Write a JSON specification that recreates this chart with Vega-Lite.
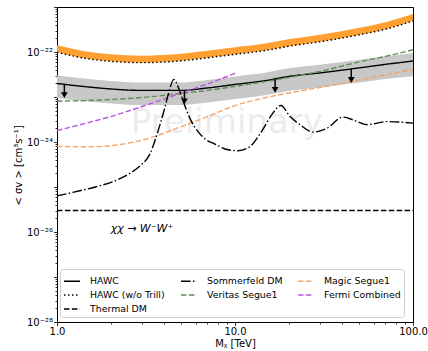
{
  "$schema": "https://vega.github.io/schema/vega-lite/v6.json",
  "width": 356,
  "height": 315,
  "autosize": {"type": "none"},
  "padding": {"left": 57, "top": 7, "right": 15, "bottom": 29},
  "background": "white",
  "config": {
    "font": "DejaVu Sans",
    "view": {"stroke": "black", "strokeWidth": 1},
    "axis": {
      "grid": false,
      "domainColor": "black",
      "domainWidth": 1,
      "tickColor": "black",
      "tickWidth": 0.8,
      "labelColor": "black",
      "titleColor": "black",
      "labelFont": "DejaVu Sans",
      "titleFont": "DejaVu Sans",
      "labelFontSize": 10,
      "titleFontSize": 10,
      "titleFontWeight": "normal",
      "labelOverlap": false,
      "labelFlush": false
    },
    "legend": {
      "orient": "none",
      "direction": "horizontal",
      "legendX": 3,
      "legendY": 262,
      "columns": 3,
      "gridAlign": "all",
      "fillColor": "rgba(255,255,255,0.85)",
      "strokeColor": "#cccccc",
      "cornerRadius": 3,
      "padding": 3,
      "labelFont": "DejaVu Sans",
      "labelFontSize": 9.4,
      "labelColor": "black",
      "labelOffset": 9,
      "labelLimit": 300,
      "symbolType": "stroke",
      "symbolSize": 256,
      "symbolStrokeWidth": 1.5,
      "columnPadding": 11,
      "rowPadding": -2.5
    }
  },
  "datasets": {
    "lines": [
      {"s": "HAWC", "m": 1, "sv": 2.0e-23},
      {"s": "HAWC", "m": 1.5, "sv": 1.67e-23},
      {"s": "HAWC", "m": 2, "sv": 1.51e-23},
      {"s": "HAWC", "m": 3, "sv": 1.40e-23},
      {"s": "HAWC", "m": 5, "sv": 1.40e-23},
      {"s": "HAWC", "m": 7, "sv": 1.59e-23},
      {"s": "HAWC", "m": 10, "sv": 1.90e-23},
      {"s": "HAWC", "m": 15, "sv": 2.33e-23},
      {"s": "HAWC", "m": 20, "sv": 2.86e-23},
      {"s": "HAWC", "m": 30, "sv": 3.43e-23},
      {"s": "HAWC", "m": 50, "sv": 4.44e-23},
      {"s": "HAWC", "m": 70, "sv": 5.31e-23},
      {"s": "HAWC", "m": 100, "sv": 6.3e-23},

      {"s": "HAWC (w/o Trill)", "m": 1, "sv": 9.85e-23},
      {"s": "HAWC (w/o Trill)", "m": 1.5, "sv": 7.05e-23},
      {"s": "HAWC (w/o Trill)", "m": 2, "sv": 6.2e-23},
      {"s": "HAWC (w/o Trill)", "m": 3, "sv": 5.8e-23},
      {"s": "HAWC (w/o Trill)", "m": 5, "sv": 6.37e-23},
      {"s": "HAWC (w/o Trill)", "m": 7, "sv": 7.43e-23},
      {"s": "HAWC (w/o Trill)", "m": 10, "sv": 8.89e-23},
      {"s": "HAWC (w/o Trill)", "m": 15, "sv": 1.09e-22},
      {"s": "HAWC (w/o Trill)", "m": 20, "sv": 1.34e-22},
      {"s": "HAWC (w/o Trill)", "m": 30, "sv": 1.69e-22},
      {"s": "HAWC (w/o Trill)", "m": 50, "sv": 2.42e-22},
      {"s": "HAWC (w/o Trill)", "m": 70, "sv": 3.21e-22},
      {"s": "HAWC (w/o Trill)", "m": 100, "sv": 4.92e-22},

      {"s": "Thermal DM", "m": 1, "sv": 3e-26},
      {"s": "Thermal DM", "m": 100, "sv": 3e-26},

      {"s": "Veritas Segue1", "m": 1, "sv": 8.14e-24},
      {"s": "Veritas Segue1", "m": 1.5, "sv": 8.35e-24},
      {"s": "Veritas Segue1", "m": 2, "sv": 8.8e-24},
      {"s": "Veritas Segue1", "m": 3, "sv": 9.75e-24},
      {"s": "Veritas Segue1", "m": 5, "sv": 1.20e-23},
      {"s": "Veritas Segue1", "m": 7, "sv": 1.40e-23},
      {"s": "Veritas Segue1", "m": 10, "sv": 1.72e-23},
      {"s": "Veritas Segue1", "m": 15, "sv": 2.22e-23},
      {"s": "Veritas Segue1", "m": 20, "sv": 2.72e-23},
      {"s": "Veritas Segue1", "m": 30, "sv": 3.71e-23},
      {"s": "Veritas Segue1", "m": 50, "sv": 6.04e-23},
      {"s": "Veritas Segue1", "m": 70, "sv": 8.0e-23},
      {"s": "Veritas Segue1", "m": 100, "sv": 1.12e-22},

      {"s": "Magic Segue1", "m": 1, "sv": 7.98e-25},
      {"s": "Magic Segue1", "m": 1.5, "sv": 7.85e-25},
      {"s": "Magic Segue1", "m": 2, "sv": 8.27e-25},
      {"s": "Magic Segue1", "m": 3, "sv": 1.10e-24},
      {"s": "Magic Segue1", "m": 5, "sv": 2.20e-24},
      {"s": "Magic Segue1", "m": 7, "sv": 3.67e-24},
      {"s": "Magic Segue1", "m": 10, "sv": 6.46e-24},
      {"s": "Magic Segue1", "m": 15, "sv": 9.75e-24},
      {"s": "Magic Segue1", "m": 20, "sv": 1.23e-23},
      {"s": "Magic Segue1", "m": 30, "sv": 1.63e-23},
      {"s": "Magic Segue1", "m": 50, "sv": 2.40e-23},
      {"s": "Magic Segue1", "m": 70, "sv": 3.10e-23},
      {"s": "Magic Segue1", "m": 100, "sv": 4.11e-23},

      {"s": "Fermi Combined", "m": 1, "sv": 1.79e-24},
      {"s": "Fermi Combined", "m": 1.5, "sv": 2.70e-24},
      {"s": "Fermi Combined", "m": 2, "sv": 3.67e-24},
      {"s": "Fermi Combined", "m": 3, "sv": 6.14e-24},
      {"s": "Fermi Combined", "m": 5, "sv": 1.23e-23},
      {"s": "Fermi Combined", "m": 7, "sv": 1.95e-23},
      {"s": "Fermi Combined", "m": 10, "sv": 3.35e-23},

      {"s": "Sommerfeld DM", "m": 1, "sv": 6.33e-26},
      {"s": "Sommerfeld DM", "m": 1.26, "sv": 7.78e-26},
      {"s": "Sommerfeld DM", "m": 1.64, "sv": 1.00e-25},
      {"s": "Sommerfeld DM", "m": 2.12, "sv": 1.37e-25},
      {"s": "Sommerfeld DM", "m": 2.57, "sv": 2.01e-25},
      {"s": "Sommerfeld DM", "m": 2.93, "sv": 2.96e-25},
      {"s": "Sommerfeld DM", "m": 3.33, "sv": 5.48e-25},
      {"s": "Sommerfeld DM", "m": 3.55, "sv": 1.07e-24},
      {"s": "Sommerfeld DM", "m": 3.79, "sv": 2.43e-24},
      {"s": "Sommerfeld DM", "m": 4.05, "sv": 6.14e-24},
      {"s": "Sommerfeld DM", "m": 4.26, "sv": 1.33e-23},
      {"s": "Sommerfeld DM", "m": 4.54, "sv": 2.46e-23},
      {"s": "Sommerfeld DM", "m": 4.85, "sv": 1.47e-23},
      {"s": "Sommerfeld DM", "m": 5.17, "sv": 7.16e-24},
      {"s": "Sommerfeld DM", "m": 5.59, "sv": 3.31e-24},
      {"s": "Sommerfeld DM", "m": 6.2, "sv": 1.70e-24},
      {"s": "Sommerfeld DM", "m": 6.87, "sv": 1.13e-24},
      {"s": "Sommerfeld DM", "m": 7.62, "sv": 9.17e-25},
      {"s": "Sommerfeld DM", "m": 9.13, "sv": 6.73e-25},
      {"s": "Sommerfeld DM", "m": 10.4, "sv": 6.40e-25},
      {"s": "Sommerfeld DM", "m": 12.1, "sv": 7.85e-25},
      {"s": "Sommerfeld DM", "m": 14.2, "sv": 1.79e-24},
      {"s": "Sommerfeld DM", "m": 16.1, "sv": 4.07e-24},
      {"s": "Sommerfeld DM", "m": 18.1, "sv": 6.46e-24},
      {"s": "Sommerfeld DM", "m": 20.4, "sv": 3.67e-24},
      {"s": "Sommerfeld DM", "m": 23.2, "sv": 2.43e-24},
      {"s": "Sommerfeld DM", "m": 27.4, "sv": 1.66e-24},
      {"s": "Sommerfeld DM", "m": 32.9, "sv": 2.03e-24},
      {"s": "Sommerfeld DM", "m": 40.4, "sv": 3.58e-24},
      {"s": "Sommerfeld DM", "m": 47.2, "sv": 2.99e-24},
      {"s": "Sommerfeld DM", "m": 55.2, "sv": 2.43e-24},
      {"s": "Sommerfeld DM", "m": 71.4, "sv": 2.84e-24},
      {"s": "Sommerfeld DM", "m": 84.5, "sv": 2.77e-24},
      {"s": "Sommerfeld DM", "m": 100, "sv": 2.63e-24}
    ],
    "hawcBand": [
      {"m": 1, "sv": 9.5e-24, "sv2": 3.02e-23},
      {"m": 1.5, "sv": 7.9e-24, "sv2": 2.52e-23},
      {"m": 2, "sv": 7.2e-24, "sv2": 2.28e-23},
      {"m": 3, "sv": 6.6e-24, "sv2": 2.11e-23},
      {"m": 5, "sv": 6.6e-24, "sv2": 2.11e-23},
      {"m": 7, "sv": 7.5e-24, "sv2": 2.39e-23},
      {"m": 10, "sv": 9.0e-24, "sv2": 2.87e-23},
      {"m": 15, "sv": 1.11e-23, "sv2": 3.52e-23},
      {"m": 20, "sv": 1.36e-23, "sv2": 4.33e-23},
      {"m": 30, "sv": 1.63e-23, "sv2": 5.18e-23},
      {"m": 50, "sv": 2.11e-23, "sv2": 6.7e-23},
      {"m": 70, "sv": 2.52e-23, "sv2": 8.0e-23},
      {"m": 100, "sv": 2.91e-23, "sv2": 9.35e-23}
    ],
    "trillBand": [
      {"m": 1, "sv": 9.85e-23, "sv2": 1.41e-22},
      {"m": 1.5, "sv": 7.05e-23, "sv2": 1.01e-22},
      {"m": 2, "sv": 6.2e-23, "sv2": 8.9e-23},
      {"m": 3, "sv": 5.8e-23, "sv2": 8.3e-23},
      {"m": 5, "sv": 6.37e-23, "sv2": 9.1e-23},
      {"m": 7, "sv": 7.43e-23, "sv2": 1.06e-22},
      {"m": 10, "sv": 8.89e-23, "sv2": 1.27e-22},
      {"m": 15, "sv": 1.09e-22, "sv2": 1.56e-22},
      {"m": 20, "sv": 1.34e-22, "sv2": 1.92e-22},
      {"m": 30, "sv": 1.69e-22, "sv2": 2.42e-22},
      {"m": 50, "sv": 2.42e-22, "sv2": 3.46e-22},
      {"m": 70, "sv": 3.21e-22, "sv2": 4.6e-22},
      {"m": 100, "sv": 4.92e-22, "sv2": 7.0e-22}
    ],
    "arrows": [
      {"m": 1.1, "sv": 1.93e-23, "sv2": 1.10e-23},
      {"m": 5.2, "sv": 1.41e-23, "sv2": 8.0e-24},
      {"m": 16.8, "sv": 2.53e-23, "sv2": 1.44e-23},
      {"m": 45, "sv": 4.21e-23, "sv2": 2.39e-23}
    ],
    "channel": [{"m": 3.0, "sv": 1.16e-26, "t": "χχ → W⁻W⁺"}],
    "mark": [{"m": 9.0, "sv": 1.61e-24, "t": "Preliminary"}]
  },
  "encoding": {
    "x": {
      "field": "m",
      "type": "quantitative",
      "scale": {"type": "log", "domain": [1, 100], "nice": false},
      "axis": {
        "title": "Mᵪ [TeV]",
        "values": [1, 2, 3, 4, 5, 6, 7, 8, 9, 10, 20, 30, 40, 50, 60, 70, 80, 90, 100],
        "labelExpr": "datum.value == 1 ? '1.0' : datum.value == 10 ? '10.0' : datum.value == 100 ? '100.0' : ''",
        "tickSize": {"condition": {"test": "datum.value == 1 || datum.value == 10 || datum.value == 100", "value": 3.5}, "value": 2},
        "labelPadding": 1,
        "titleBaseline": "middle",
        "titleY": 21
      }
    },
    "y": {
      "field": "sv",
      "type": "quantitative",
      "scale": {"type": "log", "domain": [1e-28, 1e-21], "nice": false},
      "axis": {
        "title": "< σv >  [cm³s⁻¹]",
        "values": [
          1e-28, 2e-28, 3e-28, 4e-28, 5e-28, 6e-28, 7e-28, 8e-28, 9e-28,
          1e-27, 2e-27, 3e-27, 4e-27, 5e-27, 6e-27, 7e-27, 8e-27, 9e-27,
          1e-26, 2e-26, 3e-26, 4e-26, 5e-26, 6e-26, 7e-26, 8e-26, 9e-26,
          1e-25, 2e-25, 3e-25, 4e-25, 5e-25, 6e-25, 7e-25, 8e-25, 9e-25,
          1e-24, 2e-24, 3e-24, 4e-24, 5e-24, 6e-24, 7e-24, 8e-24, 9e-24,
          1e-23, 2e-23, 3e-23, 4e-23, 5e-23, 6e-23, 7e-23, 8e-23, 9e-23,
          1e-22, 2e-22, 3e-22, 4e-22, 5e-22, 6e-22, 7e-22, 8e-22, 9e-22,
          1e-21
        ],
        "labelExpr": "datum.value == 1e-28 ? '10⁻²⁸' : datum.value == 1e-26 ? '10⁻²⁶' : datum.value == 1e-24 ? '10⁻²⁴' : datum.value == 1e-22 ? '10⁻²²' : ''",
        "tickSize": {"condition": {"test": "datum.value == 1e-28 || datum.value == 1e-27 || datum.value == 1e-26 || datum.value == 1e-25 || datum.value == 1e-24 || datum.value == 1e-23 || datum.value == 1e-22 || datum.value == 1e-21", "value": 3.5}, "value": 2},
        "labelPadding": 1,
        "titleBaseline": "middle",
        "titleAlign": "center",
        "titleX": -39,
        "titleY": 158
      }
    }
  },
  "layer": [
    {
      "data": {"name": "hawcBand"},
      "mark": {"type": "area", "color": "#c8c8c8", "opacity": 1, "interpolate": "monotone"},
      "encoding": {"y2": {"field": "sv2"}}
    },
    {
      "data": {"name": "trillBand"},
      "mark": {"type": "area", "color": "#ffa033", "opacity": 1, "interpolate": "monotone"},
      "encoding": {"y2": {"field": "sv2"}}
    },
    {
      "data": {"name": "mark"},
      "mark": {"type": "text", "fontSize": 34, "color": "#000000", "opacity": 0.07, "align": "center", "baseline": "alphabetic", "font": "DejaVu Sans"},
      "encoding": {"text": {"field": "t"}}
    },
    {
      "data": {"name": "channel"},
      "mark": {"type": "text", "fontSize": 11, "fontStyle": "italic", "color": "black", "align": "center", "baseline": "middle", "font": "DejaVu Sans"},
      "encoding": {"text": {"field": "t"}}
    },
    {
      "data": {"name": "lines"},
      "mark": {"type": "line", "strokeWidth": 1.4, "interpolate": "monotone"},
      "encoding": {
        "color": {
          "field": "s",
          "type": "nominal",
          "title": null,
          "scale": {
            "domain": ["HAWC", "Sommerfeld DM", "Magic Segue1", "HAWC (w/o Trill)", "Veritas Segue1", "Fermi Combined", "Thermal DM"],
            "range": ["#000000", "#000000", "#f5a469", "#000000", "#5e8d52", "#bb55dd", "#000000"]
          }
        },
        "strokeDash": {
          "field": "s",
          "type": "nominal",
          "title": null,
          "scale": {
            "domain": ["HAWC", "Sommerfeld DM", "Magic Segue1", "HAWC (w/o Trill)", "Veritas Segue1", "Fermi Combined", "Thermal DM"],
            "range": [[1, 0], [9.6, 2.4, 1.5, 2.4], [5.5, 2.4], [1.5, 2.5], [5.5, 2.4], [5.5, 2.4], [5.5, 2.4]]
          }
        }
      }
    },
    {
      "data": {"name": "arrows"},
      "mark": {"type": "rule", "color": "black", "strokeWidth": 1.5},
      "encoding": {"y2": {"field": "sv2"}}
    },
    {
      "data": {"name": "arrows"},
      "mark": {"type": "point", "shape": "triangle-down", "filled": true, "color": "black", "opacity": 1, "size": 45, "strokeWidth": 0},
      "encoding": {"y": {"field": "sv2", "type": "quantitative"}}
    }
  ]
}
